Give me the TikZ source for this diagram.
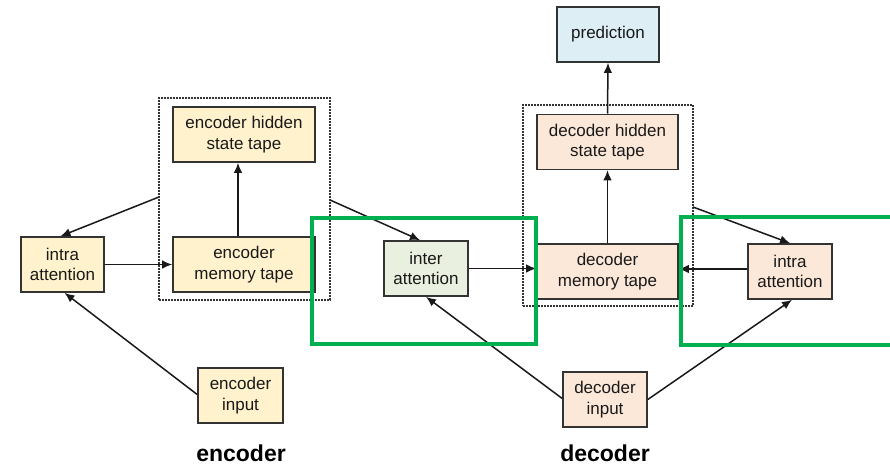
\documentclass[tikz,border=0pt]{standalone}
\usepackage{fontspec}
\setmainfont{Liberation Sans}
\usetikzlibrary{arrows.meta}
\definecolor{encfill}{HTML}{FFF2CC}
\definecolor{decfill}{HTML}{FCE8D8}
\definecolor{predfill}{HTML}{DDEEF5}
\definecolor{interfill}{HTML}{EAF0DF}
\definecolor{edge}{HTML}{333333}
\definecolor{hl}{HTML}{00B050}
\tikzset{
  box/.style={draw=edge, line width=1.6pt, minimum height=55pt, inner sep=0pt,
    align=center, font=\fontsize{17}{20.5}\selectfont, text=black!90},
  enc/.style={box, fill=encfill},
  dec/.style={box, fill=decfill},
  group/.style={draw=edge, dash pattern=on 1.6pt off 1.4pt, line width=1.2pt, inner sep=0pt},
  arr/.style={draw=black!90, line width=1.5pt, -{Latex[length=10pt,width=8.5pt]}},
  hilite/.style={draw=hl, line width=4pt},
  title/.style={font=\fontsize{23}{26}\selectfont\bfseries, anchor=base}
}
\begin{document}
\begin{tikzpicture}[x=1pt,y=1pt]
\useasboundingbox (0,0) rectangle (890,-465);

% encoder side
\node[group, minimum width=171pt, minimum height=202pt] (egroup) at (244.5,-199) {};
\node[enc, minimum width=142pt] (ehid) at (244,-134.5) {encoder hidden\\state tape};
\node[enc, minimum width=142pt] (emem) at (244,-264.5) {encoder\\memory tape};
\node[enc, minimum width=83pt] (eintra) at (62.5,-264.5) {intra\\attention};
\node[enc, minimum width=85pt] (einput) at (240.5,-395.5) {encoder\\input};

% decoder side
\node[group, minimum width=170pt, minimum height=201pt] (dgroup) at (608,-205.5) {};
\node[box, fill=predfill, minimum width=102pt] (pred) at (608,-34.5) {prediction};
\node[dec, minimum width=141pt] (dhid) at (607.5,-142) {decoder hidden\\state tape};
\node[dec, minimum width=141pt] (dmem) at (607.5,-271.5) {decoder\\memory tape};
\node[box, fill=interfill, minimum width=84pt] (inter) at (426,-268.5) {inter\\attention};
\node[dec, minimum width=84pt] (dintra) at (790,-271.5) {intra\\attention};
\node[dec, minimum width=84pt] (dinput) at (605,-399.5) {decoder\\input};

% free ends on the dotted group borders
\coordinate (eout) at (159,-197);
\coordinate (eright) at (330,-200);
\coordinate (dright) at (693,-207);

% encoder connectors
\draw[arr] (eout) -- ([xshift=-2pt]eintra.north);
\draw[arr] (eintra.east) -- (emem.west);
\draw[arr] ([xshift=-6pt]emem.north) -- ([xshift=-6pt]ehid.south);
\draw[arr] ([yshift=1pt]einput.west) -- ([xshift=2pt]eintra.south);

% decoder connectors
\draw[arr] (eright) -- ([xshift=-6pt]inter.north);
\draw[arr] (inter.east) -- (inter.east -| dmem.west);
\draw[arr] (dmem.north) -- (dhid.south);
\draw[arr] (dhid.north) -- (pred.south);
\draw[arr] (dright) -- (dintra.north);
\draw[arr] ([yshift=2.5pt]dintra.west) -- ([yshift=2.5pt]dintra.west -| dmem.east);
\draw[arr] ([yshift=1pt]dinput.west) -- (inter.south);
\draw[arr] (dinput.east) -- ([xshift=2pt]dintra.south);

% highlighted attention regions
\draw[hilite] (312,-218) rectangle (536,-344);
\draw[hilite] (681,-217) rectangle (905,-345);

% section titles
\node[title] (enclabel) at (241,-461) {encoder};
\node[title] (declabel) at (605,-461) {decoder};
\end{tikzpicture}
\end{document}
